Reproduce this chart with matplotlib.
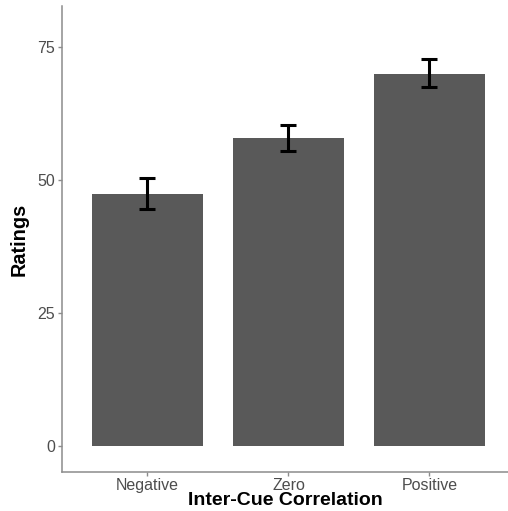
import matplotlib
matplotlib.use("Agg")
import matplotlib.pyplot as plt

categories = ["Negative", "Zero", "Positive"]
means = [47.4, 57.8, 70.0]
err_low = [44.6, 55.4, 67.4]
err_high = [50.4, 60.4, 72.7]
yticks = [0, 25, 50, 75]

plt.rcParams['font.family'] = ['Liberation Sans', 'DejaVu Sans']

fig = plt.figure(figsize=(5.08, 5.11), dpi=100)
ax = fig.add_axes([62/508, 1-472/511, 1-62/508, (472-6)/511])

x = list(range(1, len(categories)+1))
ax.bar(x, means, width=0.79, color='#595959', zorder=2)
yerr = [[m - l for m, l in zip(means, err_low)], [h - m for m, h in zip(means, err_high)]]
ax.errorbar(x, means, yerr=yerr, fmt='none', ecolor='black', elinewidth=2.2,
            capsize=5.5, capthick=2.2, zorder=3)

ax.set_xlim(0.394, 3.557)
ax.set_ylim(-4.9, 82.7)
ax.set_xticks(x)
ax.set_xticklabels(categories)
ax.set_yticks(yticks)
ax.set_yticklabels([str(t) for t in yticks])

for s in ['top', 'right']:
    ax.spines[s].set_visible(False)
for s in ['left', 'bottom']:
    ax.spines[s].set_color('#8c8c8c')
    ax.spines[s].set_linewidth(1.1)
ax.tick_params(axis='both', colors='#8c8c8c', length=3, width=1, labelsize=11.5,
               labelcolor='#4d4d4d', pad=2)
ax.tick_params(axis='x', pad=1.2)

ax.set_xlabel("Inter-Cue Correlation", fontsize=14.0, fontweight='bold', color='black', labelpad=-0.6)
ax.set_ylabel("Ratings", fontsize=14.3, fontweight='bold', color='black', labelpad=6)

fig.savefig("out.png", dpi=100)
